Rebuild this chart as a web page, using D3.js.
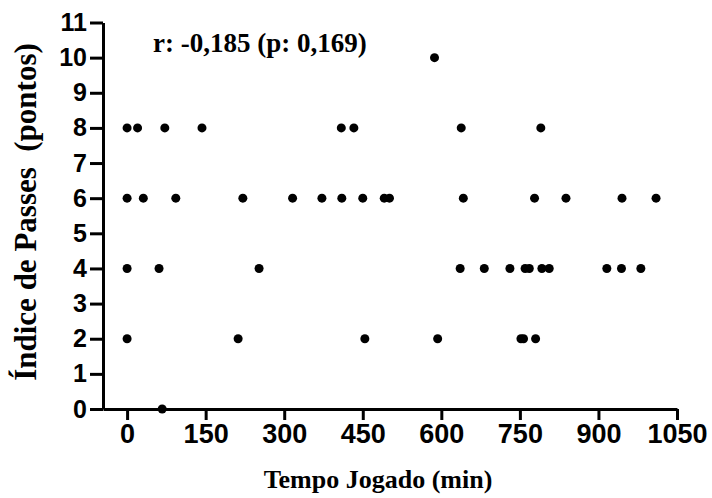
<!DOCTYPE html>
<html>
<head>
<meta charset="utf-8">
<script src="https://cdn.jsdelivr.net/npm/d3@7"></script>
<style>
  html, body { margin: 0; padding: 0; background: #fff; }
  svg { display: block; }
</style>
</head>
<body>
<svg id="chart" width="712" height="498"></svg>
<script>
// ---- data ----
const xTicks = [0, 150, 300, 450, 600, 750, 900, 1050];
const yTicks = [0, 1, 2, 3, 4, 5, 6, 7, 8, 9, 10, 11];
const tempoJogado = [
  67,
  0, 212, 454, 593, 752, 757, 780,
  0, 61, 252, 636, 682, 731, 760, 768, 792, 806, 916, 944, 981,
  0, 31, 93, 221, 316, 372, 410, 450, 491, 501, 642, 778, 838, 945, 1010,
  0, 20, 72, 143, 409, 433, 638, 790,
  587
];
const indicePasses = [
  0,
  2, 2, 2, 2, 2, 2, 2,
  4, 4, 4, 4, 4, 4, 4, 4, 4, 4, 4, 4, 4,
  6, 6, 6, 6, 6, 6, 6, 6, 6, 6, 6, 6, 6, 6, 6,
  8, 8, 8, 8, 8, 8, 8, 8,
  10
];
const annotation = "r: -0,185 (p: 0,169)";
const xTitle = "Tempo Jogado (min)";
const yTitle = "Índice de Passes  (pontos)";

const points = tempoJogado.map((t, i) => ({ x: t, y: indicePasses[i] }));

const svg = d3.select("#chart");
const x = d3.scaleLinear().domain([-46, 1050]).range([103, 677]);
const y = d3.scaleLinear().domain([0, 11]).range([409, 22.5]);

const sans = "'Liberation Sans', Arial, sans-serif";
const serif = "'Liberation Serif', 'Times New Roman', serif";

// x axis
const gx = svg.append("g")
  .attr("transform", `translate(0,${y(0)})`)
  .call(d3.axisBottom(x).tickValues(xTicks).tickSizeOuter(0).tickSizeInner(11).tickPadding(4).tickFormat(d3.format("d")));
gx.select(".domain").attr("stroke", "#000").attr("stroke-width", 3);
gx.selectAll(".tick line").attr("stroke", "#000").attr("stroke-width", 3);
gx.selectAll(".tick text")
  .attr("fill", "#000")
  .style("font-family", sans).style("font-weight", "bold").style("font-size", "27px");

// y axis
const gy = svg.append("g")
  .attr("transform", `translate(${x(-46)},0)`)
  .call(d3.axisLeft(y).tickValues(yTicks).tickSizeOuter(0).tickSizeInner(13).tickPadding(3).tickFormat(d3.format("d")));
gy.select(".domain").attr("stroke", "#000").attr("stroke-width", 3);
gy.selectAll(".tick line").attr("stroke", "#000").attr("stroke-width", 3);
gy.selectAll(".tick text")
  .attr("fill", "#000")
  .style("font-family", sans).style("font-weight", "bold").style("font-size", "25px");

// points
svg.append("g").selectAll("circle")
  .data(points)
  .join("circle")
  .attr("cx", d => x(d.x))
  .attr("cy", d => y(d.y))
  .attr("r", 4.5)
  .attr("fill", "#000");

// annotation
svg.append("text")
  .attr("x", 153).attr("y", 52)
  .style("font-family", serif).style("font-weight", "bold").style("font-size", "27px")
  .attr("fill", "#000")
  .text(annotation);

// x title
svg.append("text")
  .attr("x", 378).attr("y", 488)
  .attr("text-anchor", "middle")
  .style("font-family", serif).style("font-weight", "bold").style("font-size", "26px")
  .attr("fill", "#000")
  .text(xTitle);

// y title
svg.append("text")
  .attr("transform", "translate(36,212) rotate(-90)")
  .attr("text-anchor", "middle")
  .style("font-family", serif).style("font-weight", "bold").style("font-size", "31px")
  .style("white-space", "pre")
  .attr("xml:space", "preserve")
  .attr("fill", "#000")
  .text(yTitle);
</script>
</body>
</html>
